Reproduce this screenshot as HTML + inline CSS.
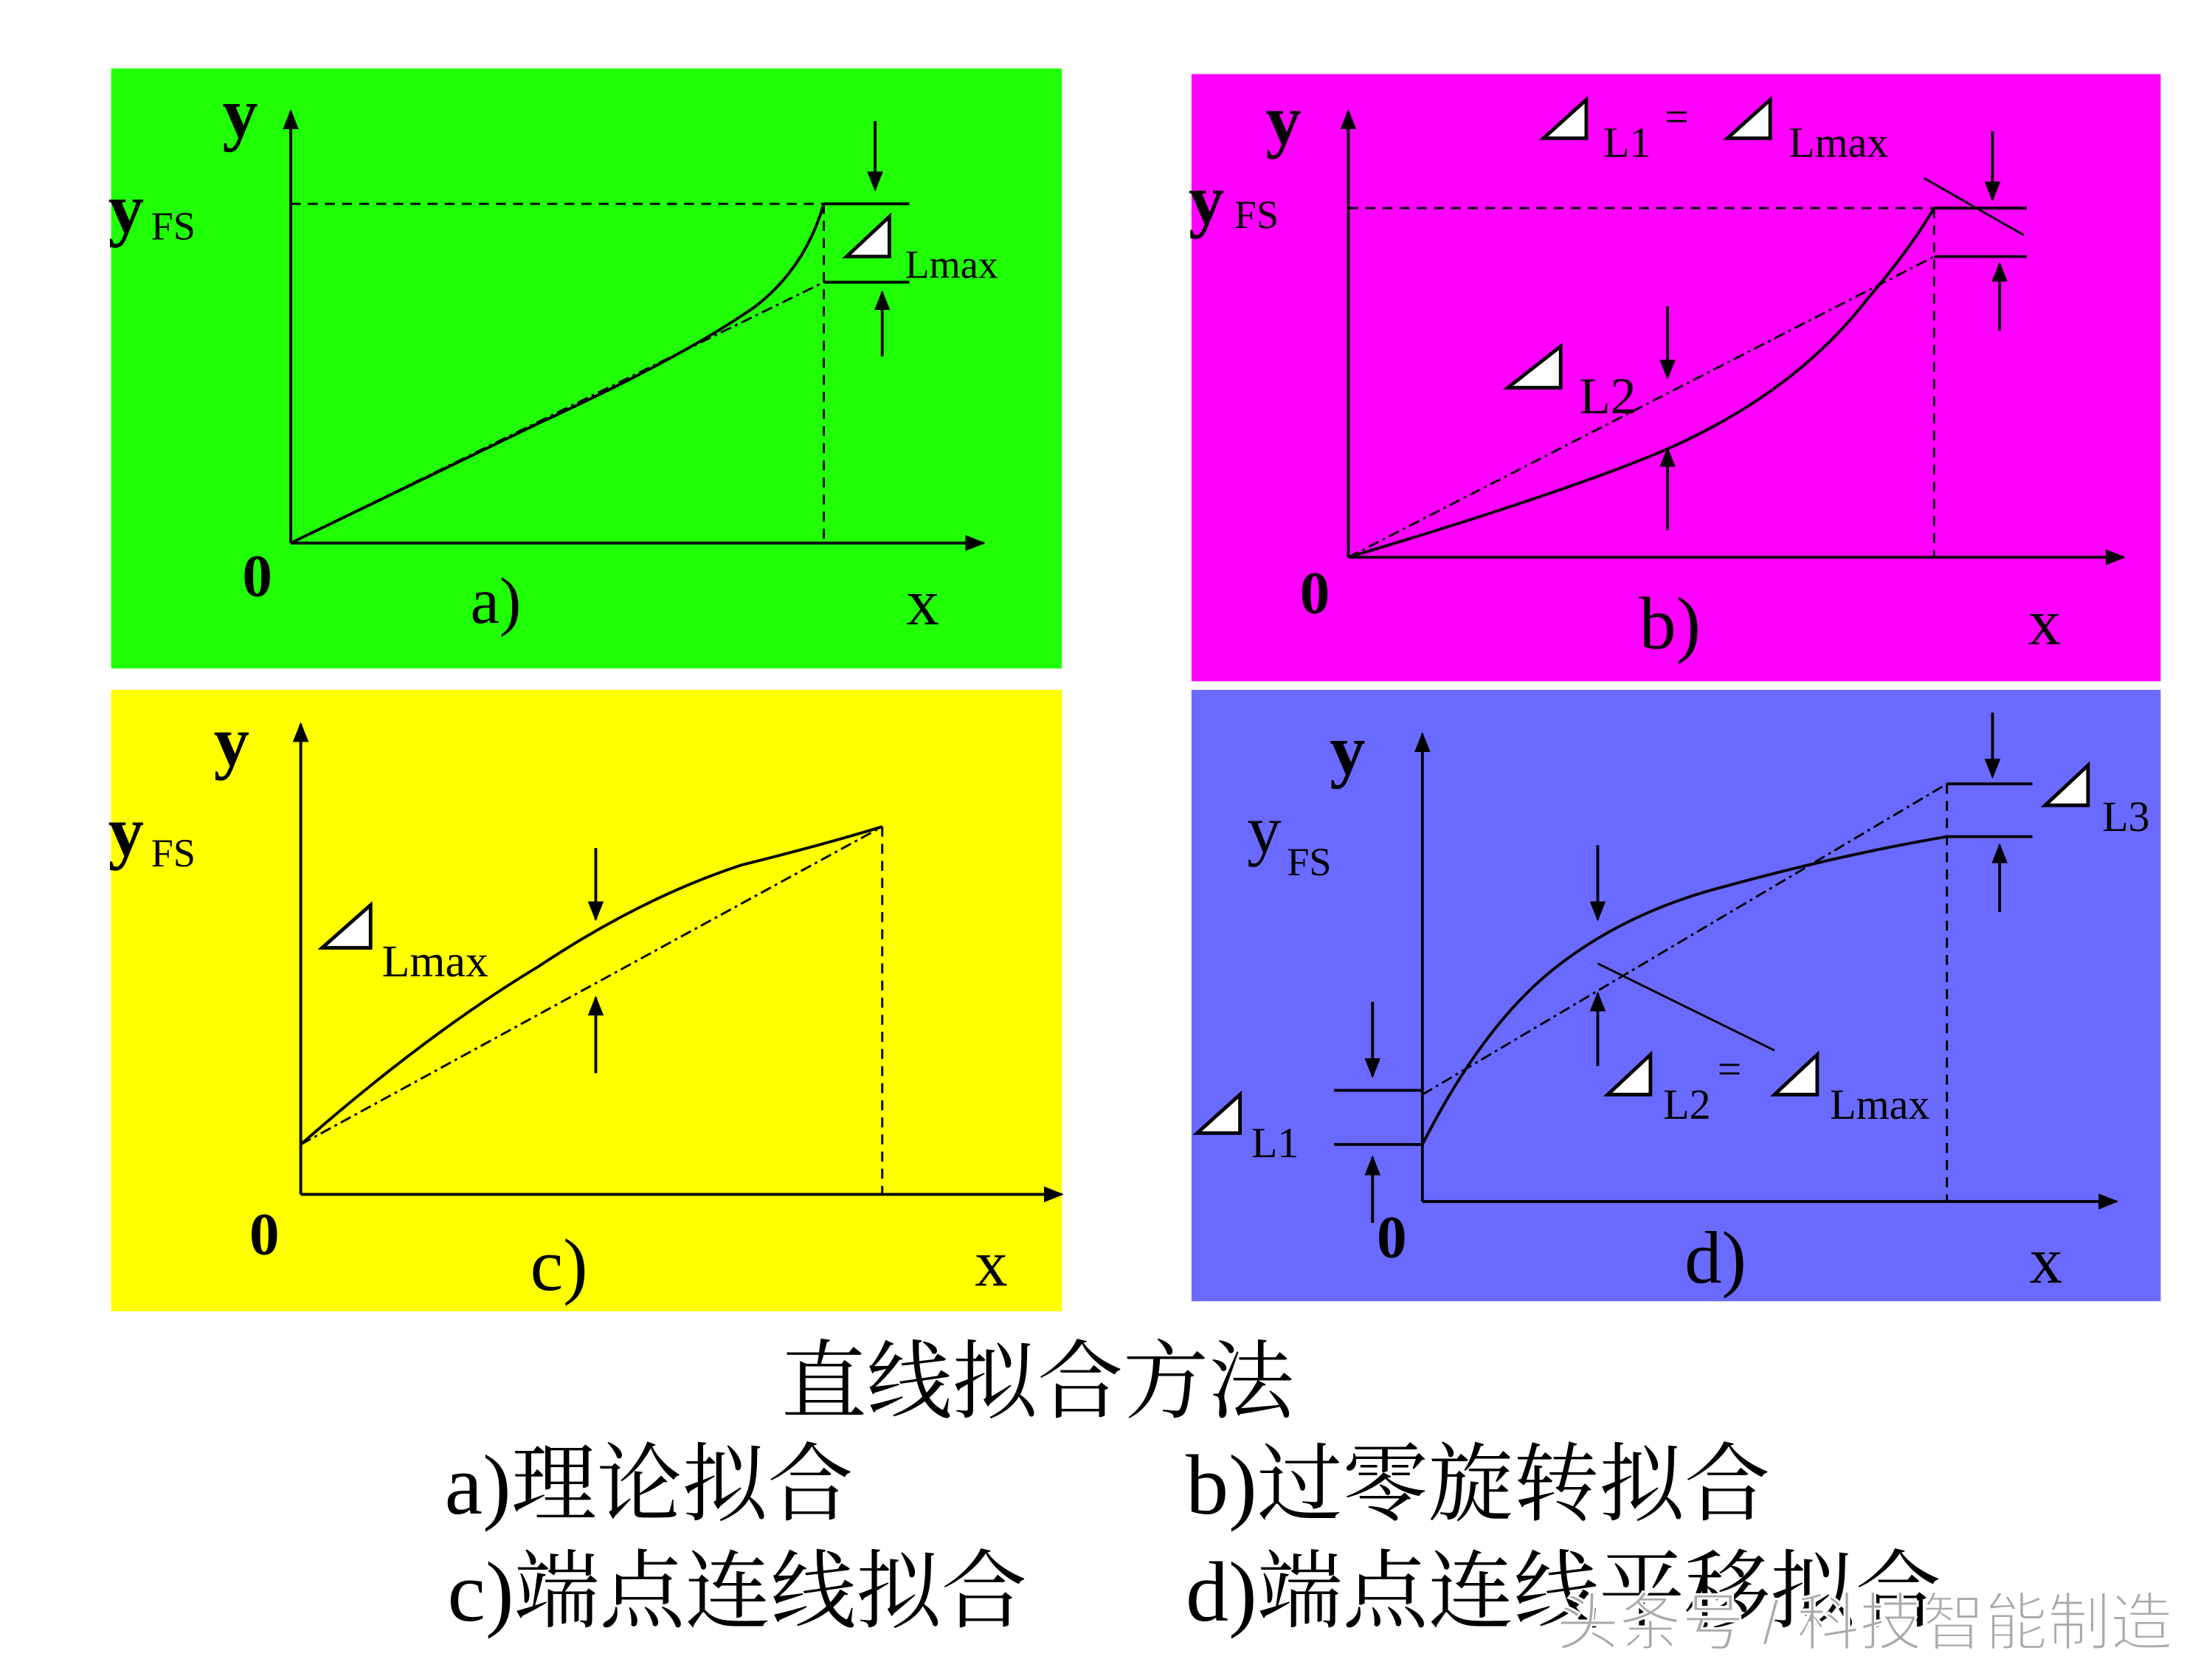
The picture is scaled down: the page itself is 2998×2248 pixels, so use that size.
<!DOCTYPE html>
<html><head><meta charset="utf-8"><style>
html,body{margin:0;padding:0;background:#fff;}
svg{display:block;}
text{font-family:"Liberation Serif","Noto Serif CJK SC",serif;fill:#000;}
</style></head><body>
<svg width="2998" height="2248" viewBox="0 0 1552 1164" preserveAspectRatio="none" xmlns="http://www.w3.org/2000/svg">
<defs>
<marker id="ah" viewBox="0 0 10 10" refX="9" refY="5" markerWidth="7" markerHeight="7" orient="auto-start-reverse"><path d="M0,1 L10,5 L0,9 Z" fill="#000"/></marker>
</defs>
<rect width="1552" height="1164" fill="#fff"/>
<rect x="78" y="48" width="667" height="421" fill="#21ff06"/>
<rect x="836" y="52" width="680" height="426" fill="#ff00ff"/>
<rect x="78" y="484" width="667" height="436" fill="#ffff00"/>
<rect x="836" y="484" width="680" height="429" fill="#6a6aff"/>

<g stroke="#000" fill="none" stroke-width="2">
<line x1="204" y1="381" x2="204" y2="78" marker-end="url(#ah)"/>
<line x1="204" y1="381" x2="690" y2="381" marker-end="url(#ah)"/>
<line x1="204" y1="143" x2="578" y2="143" stroke-dasharray="7,5" stroke-width="1.5"/>
<line x1="578" y1="143" x2="578" y2="381" stroke-dasharray="7,5" stroke-width="1.5"/>
<path d="M204,381 L380,296 Q480,250 530,215 Q565,188 578,143"/>
<line x1="204" y1="381" x2="578" y2="198" stroke-dasharray="8,3,2,3" stroke-width="1.5"/>
<line x1="578" y1="143" x2="638" y2="143"/>
<line x1="578" y1="198" x2="638" y2="198"/>
<line x1="614" y1="85" x2="614" y2="133" marker-end="url(#ah)"/>
<line x1="619" y1="250" x2="619" y2="205" marker-end="url(#ah)"/>
<line x1="946" y1="391" x2="946" y2="78" marker-end="url(#ah)"/>
<line x1="946" y1="391" x2="1490" y2="391" marker-end="url(#ah)"/>
<line x1="946" y1="146" x2="1357" y2="146" stroke-dasharray="7,5" stroke-width="1.5"/>
<line x1="1357" y1="146" x2="1357" y2="391" stroke-dasharray="7,5" stroke-width="1.5"/>
<path d="M946,391 Q1100,345 1170,315 Q1260,275 1310,210 Q1340,175 1357,146"/>
<line x1="946" y1="391" x2="1357" y2="180" stroke-dasharray="8,3,2,3" stroke-width="1.5"/>
<line x1="1357" y1="146" x2="1422" y2="146"/>
<line x1="1357" y1="180" x2="1422" y2="180"/>
<line x1="1350" y1="125" x2="1420" y2="165" stroke-width="1.5"/>
<line x1="1398" y1="92" x2="1398" y2="140" marker-end="url(#ah)"/>
<line x1="1403" y1="232" x2="1403" y2="185" marker-end="url(#ah)"/>
<line x1="1170" y1="215" x2="1170" y2="265" marker-end="url(#ah)"/>
<line x1="1170" y1="372" x2="1170" y2="315" marker-end="url(#ah)"/>
<line x1="211" y1="838" x2="211" y2="508" marker-end="url(#ah)"/>
<line x1="211" y1="838" x2="745" y2="838" marker-end="url(#ah)"/>
<line x1="619" y1="580" x2="619" y2="838" stroke-dasharray="7,5" stroke-width="1.5"/>
<path d="M211,803 Q300,725 378,678 Q450,630 520,607 Q580,592 619,580"/>
<line x1="211" y1="803" x2="619" y2="580" stroke-dasharray="8,3,2,3" stroke-width="1.5"/>
<line x1="418" y1="595" x2="418" y2="645" marker-end="url(#ah)"/>
<line x1="418" y1="753" x2="418" y2="700" marker-end="url(#ah)"/>
<line x1="998" y1="843" x2="998" y2="515" marker-end="url(#ah)"/>
<line x1="998" y1="843" x2="1485" y2="843" marker-end="url(#ah)"/>
<line x1="1366" y1="550" x2="1366" y2="843" stroke-dasharray="7,5" stroke-width="1.5"/>
<path d="M998,803 Q1040,720 1090,680 Q1140,640 1210,622 Q1290,600 1366,587"/>
<line x1="998" y1="768" x2="1366" y2="550" stroke-dasharray="8,3,2,3" stroke-width="1.5"/>
<line x1="936" y1="765" x2="998" y2="765"/>
<line x1="936" y1="803" x2="998" y2="803"/>
<line x1="1366" y1="550" x2="1426" y2="550"/>
<line x1="1366" y1="587" x2="1426" y2="587"/>
<line x1="963" y1="703" x2="963" y2="755" marker-end="url(#ah)"/>
<line x1="963" y1="858" x2="963" y2="812" marker-end="url(#ah)"/>
<line x1="1398" y1="500" x2="1398" y2="545" marker-end="url(#ah)"/>
<line x1="1403" y1="640" x2="1403" y2="593" marker-end="url(#ah)"/>
<line x1="1121" y1="593" x2="1121" y2="645" marker-end="url(#ah)"/>
<line x1="1121" y1="748" x2="1121" y2="697" marker-end="url(#ah)"/>
<line x1="1121" y1="676" x2="1245" y2="737" stroke-width="1.5"/>
</g>

<g fill="#fff" stroke="#000" stroke-width="2.5">
<path d="M594,180 L624,152 L624,180 Z"/>
<path d="M1083,97 L1113,70 L1113,97 Z"/>
<path d="M1212,97 L1242,70 L1242,97 Z"/>
<path d="M1058,272 L1095,243 L1095,272 Z"/>
<path d="M226,665 L260,635 L260,665 Z"/>
<path d="M840,795 L870,768 L870,795 Z"/>
<path d="M1128,768 L1158,740 L1158,768 Z"/>
<path d="M1245,768 L1275,740 L1275,768 Z"/>
<path d="M1435,565 L1465,537 L1465,565 Z"/>
</g>

<g font-weight="bold">
<text x="156" y="96" font-size="50">y</text>
<text x="76" y="163" font-size="50">y</text>
<text x="170" y="418" font-size="42">0</text>
<text x="888" y="101" font-size="50">y</text>
<text x="834" y="157" font-size="50">y</text>
<text x="912" y="430" font-size="42">0</text>
<text x="150" y="537" font-size="50">y</text>
<text x="76" y="600" font-size="50">y</text>
<text x="175" y="880" font-size="42">0</text>
<text x="933" y="543" font-size="50">y</text>
<text x="966" y="882" font-size="42">0</text>
</g>
<text x="106" y="168" font-size="28">FS</text>
<text x="866" y="160" font-size="28">FS</text>
<text x="106" y="608" font-size="28">FS</text>
<text x="875" y="598" font-size="48">y</text>
<text x="903" y="614" font-size="28">FS</text>

<text x="635" y="195" font-size="28">Lmax</text>
<text x="330" y="437" font-size="46">a)</text>
<text x="636" y="438" font-size="46">x</text>
<text x="1125" y="110" font-size="30">L1</text>
<text x="1168" y="92" font-size="30">=</text>
<text x="1255" y="110" font-size="30">Lmax</text>
<text x="1108" y="290" font-size="36">L2</text>
<text x="1150" y="455" font-size="52">b)</text>
<text x="1423" y="452" font-size="46">x</text>
<text x="268" y="685" font-size="32">Lmax</text>
<text x="372" y="905" font-size="52">c)</text>
<text x="684" y="902" font-size="46">x</text>
<text x="878" y="812" font-size="30">L1</text>
<text x="1167" y="785" font-size="30">L2</text>
<text x="1205" y="760" font-size="30">=</text>
<text x="1284" y="785" font-size="30">Lmax</text>
<text x="1475" y="583" font-size="30">L3</text>
<text x="1182" y="900" font-size="52">d)</text>
<text x="1424" y="900" font-size="46">x</text>

<text x="548" y="990" font-size="60">直线拟合方法</text>
<text x="312" y="1062" font-size="60">a)理论拟合</text>
<text x="832" y="1062" font-size="60">b)过零旋转拟合</text>
<text x="314" y="1137" font-size="60">c)端点连线拟合</text>
<text x="832" y="1137" font-size="60">d)端点连线平移拟合</text>
<text x="1092" y="1154" font-size="44" style="font-family:'Liberation Sans','Noto Sans CJK SC',sans-serif;fill:#aaa;" stroke="#fff" stroke-width="1.5">头条号 / 科技智能制造</text>
</svg>
</body></html>
